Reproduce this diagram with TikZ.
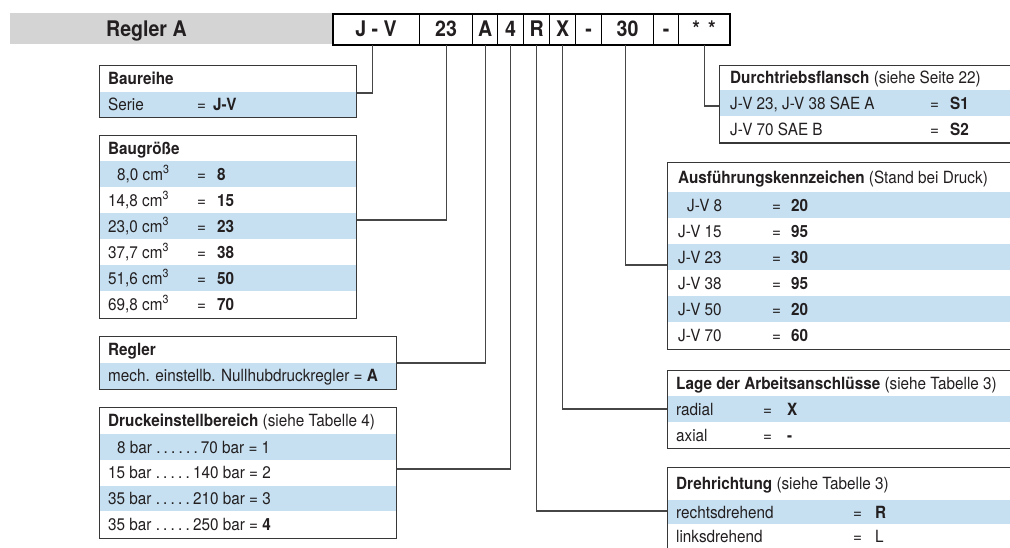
\documentclass[tikz,border=0pt]{standalone}
\usepackage{fontspec}
\setmainfont{TeX Gyre Heros}[FakeStretch=0.91]
\definecolor{rowblue}{RGB}{198,224,241}
\definecolor{headgray}{RGB}{212,212,212}
\definecolor{framecol}{RGB}{55,55,55}
\definecolor{conncol}{RGB}{70,70,70}
\definecolor{ink}{RGB}{35,31,32}
% spaced leader dot
\newcommand\bardot{.\kern3.2pt}
% one table row: name, x of label, baseline, label, x of "=", x of value, value
\newcommand\kv[7]{%
  \node[txt] (#1a) at (#2,#3) {#4};
  \node[txt] (#1b) at (#5,#3) {=};
  \node[txt] (#1c) at (#6,#3) {#7};}
\begin{document}
\begin{tikzpicture}[x=1pt,y=-1pt,
  font=\fontsize{16.8}{19}\selectfont,
  frame/.style={draw=framecol, line width=1.1pt, inner sep=0pt, anchor=north west},
  cell/.style={draw=black, line width=1.2pt, inner sep=0pt, minimum height=31pt,
    anchor=north west, text=ink, font=\fontsize{21.5}{25}\selectfont\bfseries,
    text height=15.4pt, text depth=0pt},
  txt/.style={anchor=base west, inner sep=0pt, text=ink, yshift=-0.5pt},
  conn/.style={draw=conncol, line width=1.1pt},
  rowfill/.style={fill=rowblue}]
\useasboundingbox (0,0) rectangle (1010,548);
\clip (0,0) rectangle (1010,548);

% title bar
\fill[headgray] (10,13) rectangle (332,44);
\node[txt, font=\fontsize{21.5}{25}\selectfont\bfseries] (title) at (106,36.2) {Regler A};

% order code cells
\node[cell, minimum width=87pt] (cJV) at (332,13) {J - V};
\node[cell, minimum width=53pt] (c23) at (419,13) {23};
\node[cell, minimum width=25pt] (cA)  at (472,13) {A};
\node[cell, minimum width=26pt] (c4)  at (497,13) {4};
\node[cell, minimum width=26pt] (cR)  at (523,13) {R};
\node[cell, minimum width=26pt] (cX)  at (549,13) {X};
\node[cell, minimum width=26pt] (cD1) at (575,13) {-};
\node[cell, minimum width=52pt] (c30) at (601,13) {30};
\node[cell, minimum width=25pt] (cD2) at (653,13) {-};
\node[cell, minimum width=51pt] (cSt) at (678,13) {*\hspace{8pt}*\hspace{12pt}};
\node[draw=black, line width=2pt, inner sep=0pt, minimum width=397pt,
      minimum height=31pt, anchor=north west] (codebox) at (332,13) {};

% shaded rows
\fill[rowfill] (99,92) rectangle (355.5,117);
\fill[rowfill] (99,161) rectangle (355.5,187);
\fill[rowfill] (99,213) rectangle (355.5,239);
\fill[rowfill] (99,265) rectangle (355.5,291);
\fill[rowfill] (99,363) rectangle (395.5,388.5);
\fill[rowfill] (99,434) rectangle (395.5,459.75);
\fill[rowfill] (99,485.5) rectangle (395.5,511.25);
\fill[rowfill] (719,90.5) rectangle (1030,116.5);
\fill[rowfill] (667,192) rectangle (1030,218);
\fill[rowfill] (667,244) rectangle (1030,270);
\fill[rowfill] (667,296) rectangle (1030,322);
\fill[rowfill] (667,396) rectangle (1030,422);
\fill[rowfill] (667,500) rectangle (1030,524);

% table frames
\node[frame, minimum width=256.5pt, minimum height=52pt]  (baureihe) at (99,65) {};
\node[frame, minimum width=256.5pt, minimum height=182.5pt] (baugr) at (99,135) {};
\node[frame, minimum width=296.5pt, minimum height=52.5pt] (regler) at (99,336) {};
\node[frame, minimum width=296.5pt, minimum height=131pt]  (druck) at (99,407) {};
\node[frame, minimum width=311pt, minimum height=77.5pt]   (durch) at (719,65) {};
\node[frame, minimum width=363pt, minimum height=186.5pt]  (ausf) at (667,162) {};
\node[frame, minimum width=363pt, minimum height=78pt]     (lage) at (667,370) {};
\node[frame, minimum width=363pt, minimum height=88pt]     (dreh) at (667,467) {};

% connectors
\draw[conn] ([xshift=-3.5pt]cJV.south) |- ([yshift=-28pt]baureihe.north east);
\draw[conn] (c23.south) |- ([yshift=-85pt]baugr.north east);
\draw[conn] (cA.south) |- ([yshift=-27pt]regler.north east);
\draw[conn] (c4.south) |- ([yshift=-62pt]druck.north east);
\draw[conn] (cR.south) |- ([yshift=-44pt]dreh.north west);
\draw[conn] (cX.south) |- ([yshift=-39pt]lage.north west);
\draw[conn] ([xshift=-2pt]c30.south) |- ([yshift=-103pt]ausf.north west);
\draw[conn] (cSt.south) |- ([yshift=-41pt]durch.north west);

% Baureihe
\node[txt] (brh) at (108,84) {\textbf{Baureihe}};
\kv{br1}{108}{110}{Serie}{197}{213}{\textbf{J-V}}

% Baugroesse
\node[txt] (bgh) at (108,153.6) {\textbf{Baugröße}};
\kv{bg1}{117}{179.6}{8,0 cm\textsuperscript{3}}{197}{217}{\textbf{8}}
\kv{bg2}{108}{205.6}{14,8 cm\textsuperscript{3}}{197}{217}{\textbf{15}}
\kv{bg3}{108}{231.6}{23,0 cm\textsuperscript{3}}{197}{217}{\textbf{23}}
\kv{bg4}{108}{257.6}{37,7 cm\textsuperscript{3}}{197}{217}{\textbf{38}}
\kv{bg5}{108}{283.6}{51,6 cm\textsuperscript{3}}{197}{217}{\textbf{50}}
\kv{bg6}{108}{309.6}{69,8 cm\textsuperscript{3}}{197}{217}{\textbf{70}}

% Regler
\node[txt] (rgh) at (108,355) {\textbf{Regler}};
\node[txt] (rg1) at (108,381) {mech. einstellb. Nullhubdruckregler = \textbf{A}};

% Druckeinstellbereich
\node[txt] (drh) at (108,426) {\textbf{Druckeinstellbereich} (siehe Tabelle 4)};
\node[txt] (dr1) at (117,452.5) {8 bar \bardot\bardot\bardot\bardot\bardot\bardot70 bar = 1};
\node[txt] (dr2) at (108,478.2) {15 bar \bardot\bardot\bardot\bardot\bardot140 bar = 2};
\node[txt] (dr3) at (108,504) {35 bar \bardot\bardot\bardot\bardot\bardot210 bar = 3};
\node[txt] (dr4) at (108,529.7) {35 bar \bardot\bardot\bardot\bardot\bardot250 bar = \textbf{4}};

% Durchtriebsflansch
\node[txt] (dth) at (730,83.3) {\textbf{Durchtriebsflansch} (siehe Seite 22)};
\kv{dt1}{730}{109}{J-V 23, J-V 38 SAE A}{930}{950}{\textbf{S1}}
\kv{dt2}{730}{135}{J-V 70 SAE B}{930}{950}{\textbf{S2}}

% Ausfuehrungskennzeichen
\node[txt] (afh) at (678,182.6) {\textbf{Ausführungskennzeichen} (Stand bei Druck)};
\kv{af1}{687}{210.6}{J-V 8}{772}{791}{\textbf{20}}
\kv{af2}{678}{236.6}{J-V 15}{772}{791}{\textbf{95}}
\kv{af3}{678}{262.6}{J-V 23}{772}{791}{\textbf{30}}
\kv{af4}{678}{288.6}{J-V 38}{772}{791}{\textbf{95}}
\kv{af5}{678}{314.6}{J-V 50}{772}{791}{\textbf{20}}
\kv{af6}{678}{340.6}{J-V 70}{772}{791}{\textbf{60}}

% Lage der Arbeitsanschluesse
\node[txt] (lah) at (676,388.6) {\textbf{Lage der Arbeitsanschlüsse} (siehe Tabelle 3)};
\kv{la1}{676}{414.6}{radial}{763}{787}{\textbf{X}}
\kv{la2}{676}{440.6}{axial}{763}{787}{\textbf{-}}

% Drehrichtung
\node[txt] (dhh) at (676,489) {\textbf{Drehrichtung} (siehe Tabelle 3)};
\kv{dh1}{676}{517.6}{rechtsdrehend}{853}{875}{\textbf{R}}
\kv{dh2}{676}{541.6}{linksdrehend}{853}{875}{L}
\end{tikzpicture}
\end{document}
